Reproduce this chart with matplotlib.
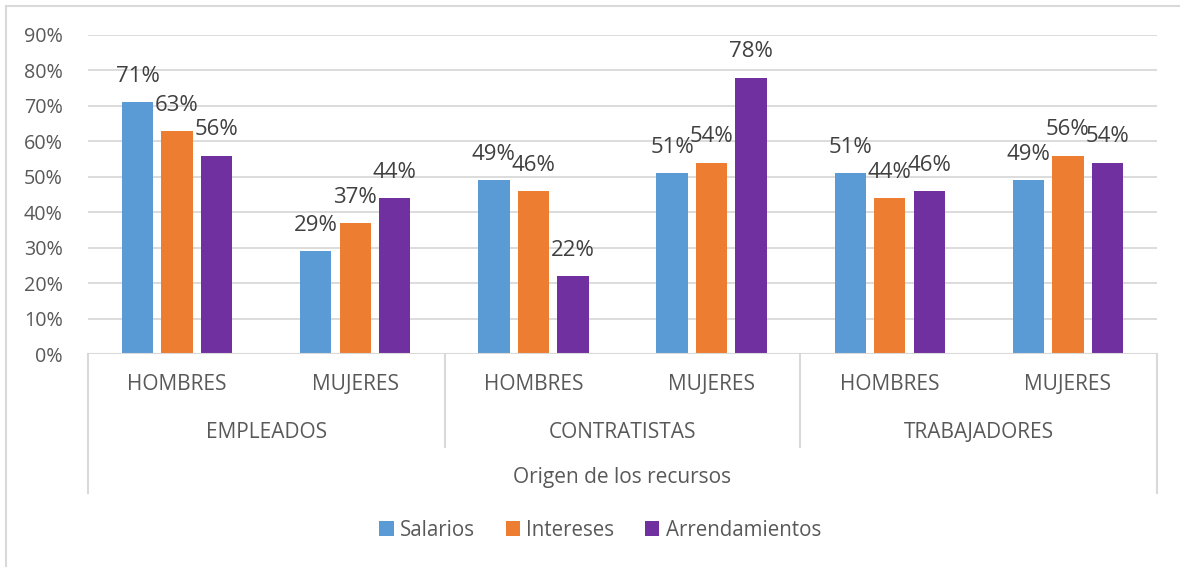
import matplotlib
matplotlib.use("Agg")
import matplotlib.pyplot as plt
from matplotlib.lines import Line2D
from matplotlib.patches import Patch
import numpy as np

plt.rcParams['font.family'] = ['Open Sans', 'DejaVu Sans']

groups = ["EMPLEADOS", "CONTRATISTAS", "TRABAJADORES"]
subgroups = ["HOMBRES", "MUJERES"]
series_names = ["Salarios", "Intereses", "Arrendamientos"]
salarios = [0.71, 0.29, 0.49, 0.51, 0.51, 0.49]
intereses = [0.63, 0.37, 0.46, 0.54, 0.44, 0.56]
arrendamientos = [0.56, 0.44, 0.22, 0.78, 0.46, 0.54]
axis_title = "Origen de los recursos"
yticks = [0, 0.1, 0.2, 0.3, 0.4, 0.5, 0.6, 0.7, 0.8, 0.9]

colors = ["#5B9BD5", "#ED7D31", "#7030A0"]
grid_c = "#D9D9D9"
text_c = "#595959"
label_c = "#404040"

W, H = 1180, 567
fig = plt.figure(figsize=(W / 100, H / 100), dpi=100)

def fx(px):
    return px / W

def fy(py):
    return 1 - py / H

x_left, x_right, y_zero, y_top = 88, 1157, 354, 35
ax = fig.add_axes([fx(x_left), fy(y_zero), fx(x_right - x_left), (y_zero - y_top) / H])
ax.set_xlim(0, 6)
ax.set_ylim(0, 0.9)

centers = np.arange(6) + 0.5
step, width = 0.222, 0.176
data = [salarios, intereses, arrendamientos]
for i, (vals, c, name) in enumerate(zip(data, colors, series_names)):
    xs = centers + (i - 1) * step
    ax.bar(xs, vals, width=width, color=c, zorder=3, label=name)
    for x, v in zip(xs, vals):
        ax.annotate(f"{round(v * 100):d}%", (x, v), xytext=(0, 18.5), textcoords="offset points",
                    ha="center", va="center", fontsize=16, color=label_c)

ax.set_yticks(yticks)
ax.set_yticklabels([f"{round(t * 100):d}%" for t in yticks], fontsize=14.2, color=text_c)
ax.tick_params(axis="y", length=0, pad=18)
ax.set_xticks([])
for t in yticks[1:]:
    ax.axhline(t, color=grid_c, lw=1.3, zorder=1)
for s in ax.spines.values():
    s.set_visible(False)
ax.axhline(0, color=grid_c, lw=1.5, zorder=4)

# hierarchical category axis
for gx, y_end in [(88, 493), (445, 447), (800, 447), (1157, 493)]:
    fig.add_artist(Line2D([fx(gx), fx(gx)], [fy(y_zero), fy(y_end)], color=grid_c, lw=1.5))

cat_fs = 15
for k, c in enumerate(centers):
    px = x_left + c / 6 * (x_right - x_left)
    fig.text(fx(px), fy(385), subgroups[k % 2], ha="center", va="center", fontsize=cat_fs, color=text_c)
for g, name in enumerate(groups):
    px = x_left + (2 * g + 1) / 6 * (x_right - x_left)
    fig.text(fx(px), fy(432), name, ha="center", va="center", fontsize=cat_fs, color=text_c)
fig.text(fx((x_left + x_right) / 2), fy(477), axis_title, ha="center", va="center", fontsize=cat_fs, color=text_c)

# chart border (left & top)
fig.add_artist(Line2D([fx(6), fx(6)], [fy(6), 0], color=grid_c, lw=1.5))
fig.add_artist(Line2D([fx(6), 1], [fy(6), fy(6)], color=grid_c, lw=1.5))

handles = [Patch(facecolor=c, edgecolor="none") for c in colors]
fig.legend(handles, series_names, loc="center", bbox_to_anchor=(fx(600), fy(530)), ncol=3,
           frameon=False, fontsize=14.8, labelcolor=text_c, handlelength=0.7, handleheight=0.7,
           handletextpad=0.3, columnspacing=1.5)

fig.savefig("out.png", dpi=100)
